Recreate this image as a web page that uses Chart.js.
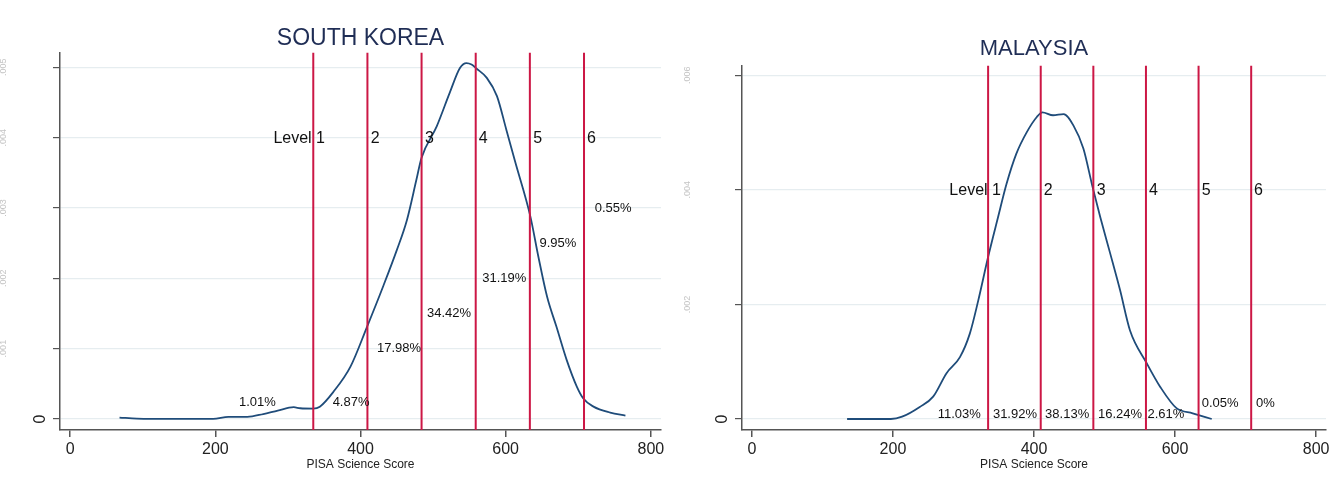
<!DOCTYPE html>
<html>
<head>
<meta charset="utf-8">
<script src="https://cdn.jsdelivr.net/npm/chart.js@4.4.1/dist/chart.umd.min.js"></script>
<style>
  html, body { margin: 0; padding: 0; background: #fff; }
  #wrap { position: relative; width: 1332px; height: 483px; overflow: hidden; }
  canvas { position: absolute; top: 0; }
  #korea { left: 0; }
  #malaysia { left: 684px; }
</style>
</head>
<body>
<div id="wrap">
  <canvas id="korea" width="684" height="483"></canvas>
  <canvas id="malaysia" width="648" height="483"></canvas>
</div>
<script>
// PISA science proficiency cut-offs (level 1..6)
const CUTOFFS = [334.94, 409.54, 484.14, 558.73, 633.33, 707.93];
const X_TICKS = [0, 200, 400, 600, 800];
const X_MIN = -14;
const X_MAX = 814;
const LEVEL_LABELS = ["Level 1", "2", "3", "4", "5", "6"];
const LEVEL_X = [280, 414, 489, 563, 638, 712];
const LEVEL_Y = 0.004;

// South Korea kernel density
const KOR_SCORE = [68, 92, 140, 197, 218, 244, 266, 286, 308, 317, 335, 344, 363, 386, 409, 431, 450, 464, 477,
  484, 505, 523, 537, 546, 553, 560, 574, 588, 601, 613, 634, 645, 657, 670, 684, 698, 707, 721, 744, 765];
const KOR_DENSITY = [0.00002, 0.000005, 0, 0, 0.00003, 0.00003, 0.00007, 0.00012, 0.000167, 0.000152, 0.000147,
  0.000175, 0.00039, 0.00074, 0.00131, 0.00188, 0.0024, 0.00283, 0.0034, 0.00371, 0.00416, 0.00464, 0.00499,
  0.00506, 0.00504, 0.00498, 0.00485, 0.00459, 0.00411, 0.00366, 0.00288, 0.00231, 0.00174, 0.00131,
  0.00084, 0.00046, 0.00029, 0.000175, 0.00009, 0.000047];
const KOR_Y_TICKS = [0, 0.001, 0.002, 0.003, 0.004, 0.005];
const KOR_Y_MIN = -0.000157;
const KOR_Y_MAX = 0.005209;
const KOR_PCT = ["1.01%", "4.87%", "17.98%", "34.42%", "31.19%", "9.95%", "0.55%"];
const KOR_PCT_X = [258, 387, 453, 522, 598, 672, 748];
const KOR_PCT_Y = [0.00023, 0.00023, 0.001, 0.0015, 0.002, 0.0025, 0.003];

// Malaysia kernel density
const MYS_SCORE = [135, 197, 213, 238, 257, 276, 295, 309, 321, 335, 349, 361, 375, 390, 404, 412, 427, 442, 456,
  470, 483, 494, 508, 522, 536, 560, 579, 602, 625, 652];
const MYS_DENSITY = [0, 0, 0.00004, 0.00021, 0.00039, 0.0008, 0.00108, 0.00149, 0.00207, 0.00283, 0.00352,
  0.0041, 0.00463, 0.00501, 0.00527, 0.00535, 0.0053, 0.00532, 0.00512, 0.00472, 0.00405, 0.00352, 0.00289,
  0.00225, 0.00155, 0.00097, 0.00056, 0.00019, 0.0001, 0];
const MYS_Y_TICKS = [0, 0.002, 0.004, 0.006];
const MYS_Y_MIN = -0.000192;
const MYS_Y_MAX = 0.00617;
const MYS_PCT = ["11.03%", "31.92%", "38.13%", "16.24%", "2.61%", "0.05%", "0%"];
const MYS_PCT_X = [294, 373, 447, 522, 587, 664, 728];
const MYS_PCT_Y = [0.00008, 0.00008, 0.00008, 0.00008, 0.00008, 0.00028, 0.00028];

const FONT = '"Liberation Sans", Arial, sans-serif';
const NAVY = "#1f4c7a";
const RED = "#cc1745";
const AXIS = "#555";
const GRID = "#e6edf0";

const annotate = {
  id: "annotate",
  afterDatasetsDraw(chart, args, opts) {
    const { ctx, chartArea } = chart;
    const x = chart.scales.x;
    const y = chart.scales.y;
    ctx.save();
    ctx.fillStyle = "#111";
    ctx.textBaseline = "middle";

    ctx.font = `16px ${FONT}`;
    ctx.textAlign = "left";
    LEVEL_LABELS.forEach((t, i) => {
      ctx.fillText(t, x.getPixelForValue(LEVEL_X[i]), y.getPixelForValue(LEVEL_Y) + 1);
    });

    ctx.font = `13px ${FONT}`;
    ctx.textAlign = "center";
    opts.pct.forEach((t, i) => {
      ctx.fillText(t, x.getPixelForValue(opts.pctX[i]), y.getPixelForValue(opts.pctY[i]));
    });

    // y labels: rotated "0", the others nearly invisible at the far left
    opts.yTicks.forEach((v) => {
      const py = y.getPixelForValue(v);
      ctx.save();
      if (v === 0) {
        ctx.translate(chartArea.left - 19, py);
        ctx.rotate(-Math.PI / 2);
        ctx.font = `16px ${FONT}`;
        ctx.fillStyle = "#222";
        ctx.fillText("0", 0, 0);
      } else {
        ctx.translate(4, py);
        ctx.rotate(-Math.PI / 2);
        ctx.font = `9px ${FONT}`;
        ctx.fillStyle = "#c4c4c4";
        ctx.fillText(String(v).replace(/^0/, ""), 0, 0);
      }
      ctx.restore();
    });
    ctx.restore();
  },
};

function makeChart(id, cfg) {
  const densityData = cfg.score.map((s, i) => ({ x: s, y: cfg.density[i] }));
  const cutLines = CUTOFFS.map((c) => ({
    data: [{ x: c, y: cfg.yMin }, { x: c, y: cfg.yMax }],
    borderColor: RED,
    borderWidth: 2,
    pointRadius: 0,
    tension: 0,
  }));
  return new Chart(document.getElementById(id), {
    type: "line",
    data: {
      datasets: [
        ...cutLines,
        {
          data: densityData,
          borderColor: NAVY,
          borderWidth: 1.8,
          pointRadius: 0,
          cubicInterpolationMode: "monotone",
        },
      ],
    },
    options: {
      responsive: false,
      animation: false,
      devicePixelRatio: 1,
      layout: { padding: { left: 0, right: cfg.padRight, top: 0, bottom: 0 } },
      plugins: {
        legend: { display: false },
        tooltip: { enabled: false },
        title: {
          display: true,
          text: cfg.title,
          color: "#1f2d55",
          fullSize: false,
          font: { family: FONT, size: cfg.titleSize, weight: "normal" },
          padding: cfg.titlePad,
        },
        annotate: { pct: cfg.pct, pctX: cfg.pctX, pctY: cfg.pctY, yTicks: cfg.yTicks },
      },
      scales: {
        x: {
          type: "linear",
          min: X_MIN,
          max: X_MAX,
          afterBuildTicks: (s) => { s.ticks = X_TICKS.map((v) => ({ value: v })); },
          afterFit: (s) => { s.height = 53; s.paddingLeft = 0; s.paddingRight = 0; },
          ticks: { color: "#222", padding: 3, maxRotation: 0, font: { family: FONT, size: 16 } },
          grid: { drawOnChartArea: false, tickColor: AXIS, tickLength: 7, lineWidth: 1.5 },
          border: { color: AXIS, width: 1.5 },
          title: {
            display: true,
            text: "PISA Science Score",
            color: "#222",
            font: { family: FONT, size: 12 },
            padding: { top: 0, bottom: 11 },
          },
        },
        y: {
          type: "linear",
          min: cfg.yMin,
          max: cfg.yMax,
          afterBuildTicks: (s) => { s.ticks = cfg.yTicks.map((v) => ({ value: v })); },
          afterFit: (s) => { s.width = cfg.axisLeft; s.paddingTop = 0; s.paddingBottom = 0; },
          ticks: { display: false },
          grid: { color: GRID, tickColor: AXIS, tickLength: 7, lineWidth: 1.2 },
          border: { color: AXIS, width: 1.5 },
        },
      },
    },
    plugins: [annotate],
  });
}

makeChart("korea", {
  title: "SOUTH KOREA",
  titleSize: 23,
  titlePad: { top: 25, bottom: 0 },
  padRight: 23,
  axisLeft: 60,
  score: KOR_SCORE,
  density: KOR_DENSITY,
  yTicks: KOR_Y_TICKS,
  yMin: KOR_Y_MIN,
  yMax: KOR_Y_MAX,
  pct: KOR_PCT,
  pctX: KOR_PCT_X,
  pctY: KOR_PCT_Y,
});

makeChart("malaysia", {
  title: "MALAYSIA",
  titleSize: 22,
  titlePad: { top: 36, bottom: 3 },
  padRight: 6,
  axisLeft: 58,
  score: MYS_SCORE,
  density: MYS_DENSITY,
  yTicks: MYS_Y_TICKS,
  yMin: MYS_Y_MIN,
  yMax: MYS_Y_MAX,
  pct: MYS_PCT,
  pctX: MYS_PCT_X,
  pctY: MYS_PCT_Y,
});
</script>
</body>
</html>
